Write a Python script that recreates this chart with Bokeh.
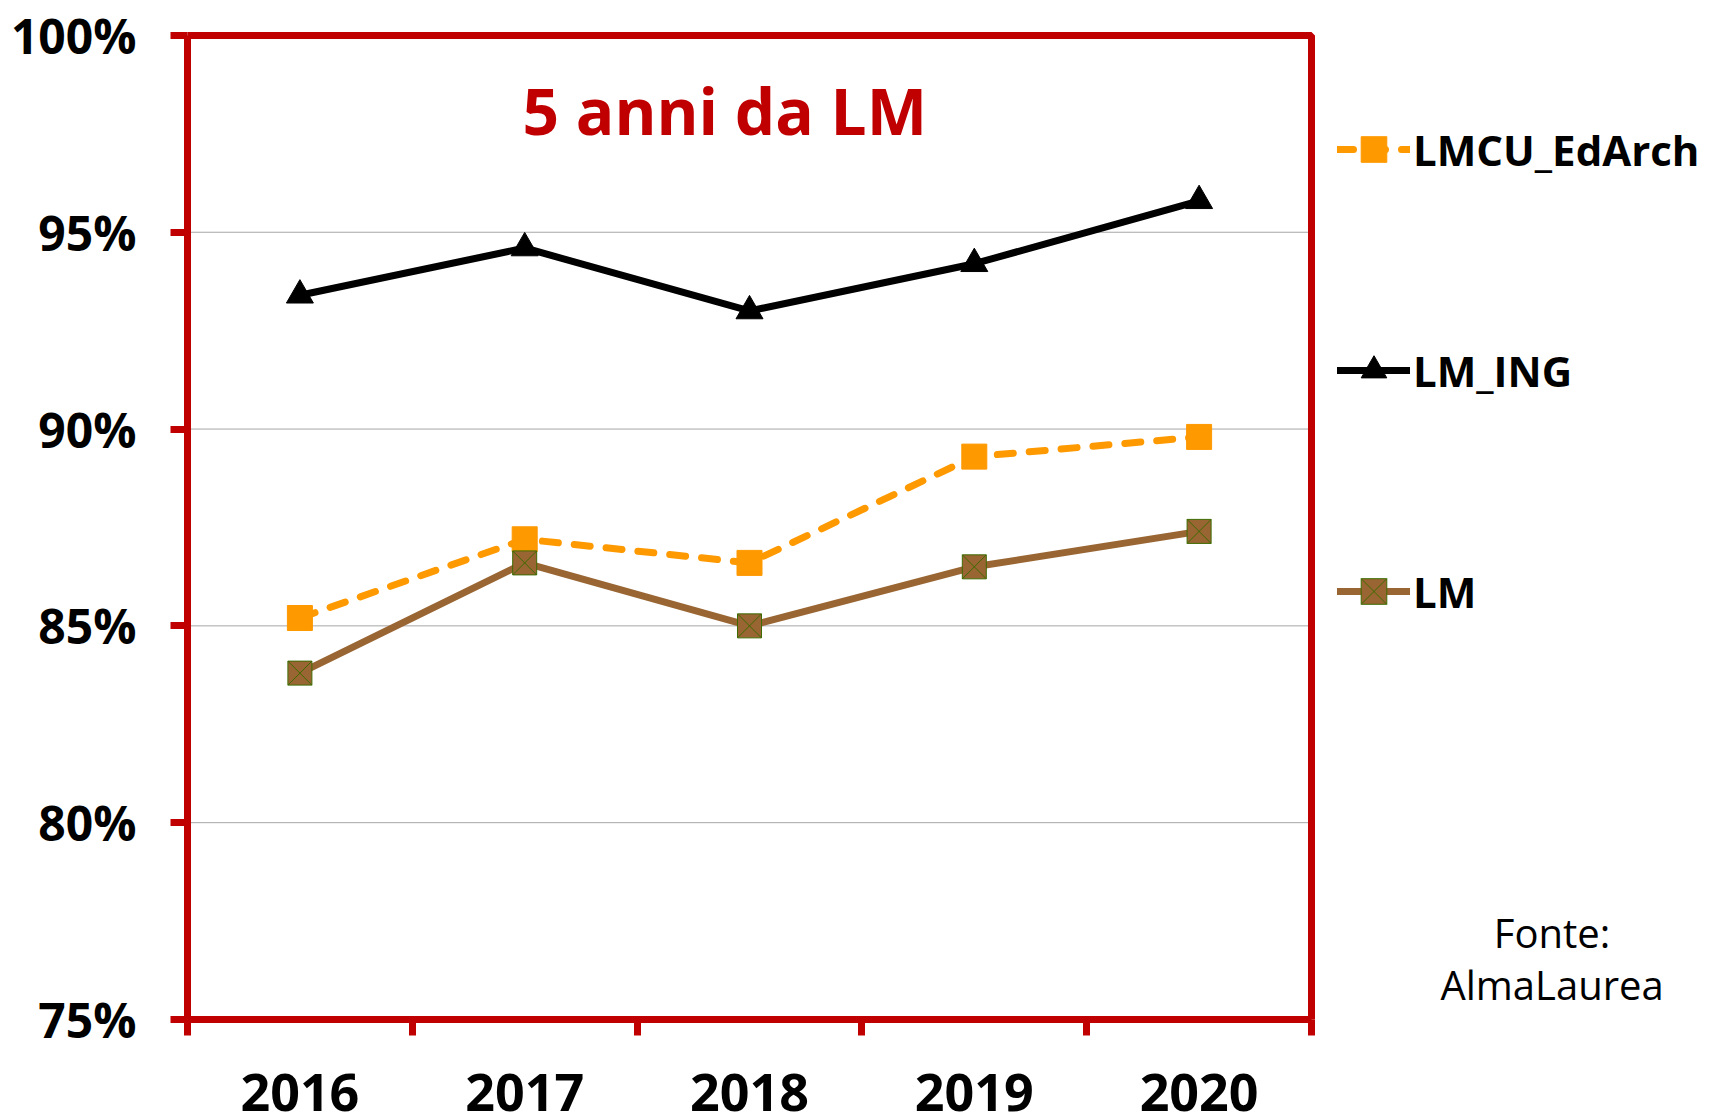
from bokeh.plotting import figure
from bokeh.models import (Range1d, FixedTicker, PrintfTickFormatter, Legend, LegendItem, Label, BoxAnnotation)
from bokeh.embed import file_html
from bokeh.resources import INLINE

# ---- data ----
years = ["2016", "2017", "2018", "2019", "2020"]
lmcu_edarch = [85.2, 87.2, 86.6, 89.3, 89.8]
lm_ing = [93.4, 94.6, 93.0, 94.2, 95.8]
lm = [83.8, 86.6, 85.0, 86.5, 87.4]
y_ticks = [75, 80, 85, 90, 95, 100]
title_text = "5 anni da LM"
source_text = ["Fonte:", "AlmaLaurea"]

RED = "#C00000"
FONT = "Open Sans"

W, H = 1716, 1114
FL, FR, FT, FB = 187, 1311, 35, 1019  # plot box in pixels
n = len(years)
y_lo, y_hi = y_ticks[0], y_ticks[-1]
px_per_y = (FB - FT) / (y_hi - y_lo)
pad_top = 0.1
x_end = n * (W - FL) / (FR - FL)

xs = [i + 0.5 for i in range(n)]

p = figure(width=W, height=H, x_range=Range1d(0, x_end), y_range=Range1d(y_lo, y_hi + pad_top),
           output_backend="svg", toolbar_location=None,
           min_border_left=FL, min_border_right=0,
           min_border_top=int(round(FT - pad_top * px_per_y)), min_border_bottom=H - FB)
p.background_fill_color = "white"
p.border_fill_color = "white"
p.outline_line_color = None

# horizontal grid lines inside the plot box only
p.xgrid.visible = False
p.ygrid.visible = False
inner = y_ticks[1:-1]
p.segment(x0=[0] * len(inner), x1=[n] * len(inner), y0=inner, y1=inner,
          line_color="#A6A6A6", line_width=1)

# plot box border
p.add_layout(BoxAnnotation(left=0, right=n, bottom=y_lo, top=y_hi, fill_alpha=0,
                           line_color=RED, line_alpha=1, line_width=7))

# x axis
xa = p.xaxis[0]
xa.bounds = (0, n)
xa.ticker = FixedTicker(ticks=xs, minor_ticks=list(range(n + 1)))
xa.major_label_overrides = {x: y for x, y in zip(xs, years)}
xa.axis_line_color = RED
xa.axis_line_width = 7
xa.major_tick_line_color = None
xa.major_tick_out = 16
xa.major_tick_in = 0
xa.minor_tick_line_color = RED
xa.minor_tick_line_width = 7
xa.minor_tick_out = 16
xa.minor_tick_in = 0
xa.major_label_text_font = FONT
xa.major_label_text_font_style = "bold"
xa.major_label_text_font_size = "52px"
xa.major_label_text_color = "black"
xa.major_label_standoff = 38

# y axis
ya = p.yaxis[0]
ya.bounds = (y_lo, y_hi)
ya.ticker = FixedTicker(ticks=y_ticks, minor_ticks=[])
ya.formatter = PrintfTickFormatter(format="%d%%")
ya.axis_line_color = RED
ya.axis_line_width = 7
ya.major_tick_line_color = RED
ya.major_tick_line_width = 7
ya.major_tick_out = 17
ya.major_tick_in = 0
ya.minor_tick_line_color = None
ya.major_label_text_font = FONT
ya.major_label_text_font_style = "bold"
ya.major_label_text_font_size = "48px"
ya.major_label_text_color = "black"
ya.major_label_standoff = 34

# series
l1 = p.line(xs, lmcu_edarch, line_color="#FF9900", line_width=7, line_dash="16 16", line_cap="round")
s1 = p.scatter(xs, lmcu_edarch, marker="square", size=25, fill_color="#FF9900", line_color="#FF9900")
l2 = p.line(xs, lm_ing, line_color="black", line_width=7, line_cap="round")
s2 = p.scatter(xs, lm_ing, marker="triangle", size=27, fill_color="black", line_color="black")
l3 = p.line(xs, lm, line_color="#996633", line_width=7, line_cap="round")
s3 = p.scatter(xs, lm, marker="square_x", size=24, fill_color="#996633", line_color="#3D6B00", line_width=1)

legend = Legend(items=[
    LegendItem(label="LMCU_EdArch", renderers=[l1, s1]),
    LegendItem(label="LM_ING", renderers=[l2, s2]),
    LegendItem(label="LM", renderers=[l3, s3]),
], location=(1150, 396))
legend.padding = 0
legend.margin = 0
legend.glyph_width = 73
legend.glyph_height = 64
legend.label_height = 64
legend.label_standoff = 3
legend.spacing = 157
legend.label_text_font = FONT
legend.label_text_font_style = "bold"
legend.label_text_font_size = "42px"
legend.label_text_color = "black"
legend.border_line_color = None
legend.background_fill_alpha = 0
p.add_layout(legend, "center")

# title inside plot
p.add_layout(Label(x=2.39, y=98.1, text=title_text, text_align="center", text_baseline="middle",
                   text_font=FONT, text_font_style="bold", text_font_size="64px", text_color=RED))

# source note
p.add_layout(Label(x=6.07, y=77.2, text=source_text[0], text_align="center", text_baseline="middle",
                   text_font=FONT, text_font_size="40px", text_color="black"))
p.add_layout(Label(x=6.07, y=75.9, text=source_text[1], text_align="center", text_baseline="middle",
                   text_font=FONT, text_font_size="40px", text_color="black"))

open("out.html", "w").write(file_html(p, INLINE))
